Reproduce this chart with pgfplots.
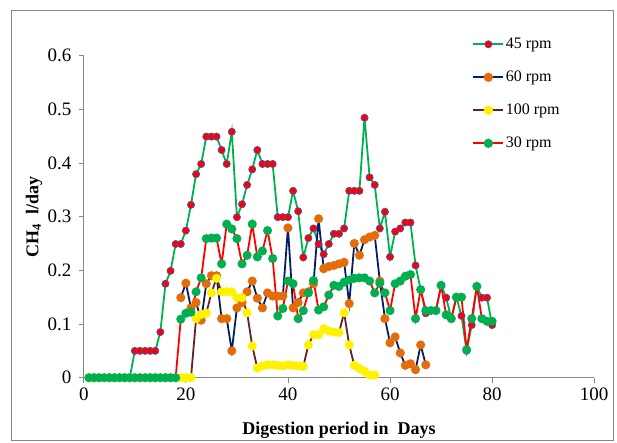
\documentclass[border=0pt]{standalone}
\usepackage{pgfplots}
\pgfplotsset{compat=1.18}
\usepackage{fontspec}
\setmainfont{Liberation Serif}
\definecolor{gLine}{RGB}{0,176,80}
\definecolor{navy}{RGB}{0,32,96}
\definecolor{orng}{RGB}{228,108,10}
\definecolor{brwn}{RGB}{99,37,35}
\definecolor{outl}{RGB}{70,85,170}
\definecolor{axgray}{RGB}{134,134,134}
\begin{document}
\begin{tikzpicture}
\useasboundingbox (-83.8pt,-64.3pt) rectangle (533.2pt,377.7pt);
\begin{axis}[
  at={(0pt,0pt)}, anchor=origin,
  scale only axis, width=510.4pt, height=322.2pt,
  xmin=0, xmax=100, ymin=0, ymax=0.6,
  xtick={0,20,40,60,80,100},
  ytick={0,0.1,0.2,0.3,0.4,0.5,0.6},
  axis lines=left,
  axis line style={axgray, line width=0.8pt, -},
  tick style={axgray, line width=0.8pt},
  tick align=outside, major tick length=5pt,
  /pgf/number format/assume math mode=true,
  /pgf/number format/fixed,
  ticklabel style={font=\fontsize{19}{22}\selectfont},
  yticklabel style={xshift=-4pt},
  xticklabel style={yshift=-2pt},
  xlabel={Digestion period in\ \ Days},
  ylabel={CH$_{\mathbf 4}$\ \ l/day},
  xlabel style={font=\bfseries\fontsize{18}{21}\selectfont, at={(axis description cs:0.5,-0.1623)}, anchor=center},
  ylabel style={font=\bfseries\fontsize{18}{21}\selectfont, at={(axis description cs:-0.0976,0.5)}, anchor=center},
  legend style={draw=none, fill=none, at={(0.755,1.068)}, anchor=north west,
    font=\fontsize{16}{19}\selectfont, row sep=16pt,
    nodes={inner sep=1.5pt, text height=11pt, text depth=3pt}},
  legend cell align=left,
  legend image code/.code={\draw[#1, line width=2pt, mark repeat=2, mark phase=2] plot coordinates {(0pt,0pt) (15pt,0pt) (30pt,0pt)};},
]
\addplot[gLine, line width=1.8pt, mark=*, mark size=3.6pt, mark options={solid, fill=red, draw=outl, line width=0.7pt}] coordinates {
(1,0)(2,0)(3,0)(4,0)(5,0)(6,0)(7,0)(8,0)(9,0)(10,0.05)(11,0.05)(12,0.05)(13,0.05)(14,0.05)(15,0.085)(16,0.175)(17,0.199)(18,0.249)(19,0.249)(20,0.274)(21,0.322)(22,0.379)(23,0.398)(24,0.449)(25,0.449)(26,0.449)(27,0.424)(28,0.398)(29,0.458)(30,0.299)(31,0.323)(32,0.359)(33,0.388)(34,0.424)(35,0.398)(36,0.398)(37,0.398)(38,0.299)(39,0.299)(40,0.299)(41,0.348)(42,0.31)(43,0.224)(44,0.26)(45,0.278)(46,0.249)(47,0.23)(48,0.249)(49,0.268)(50,0.268)(51,0.278)(52,0.348)(53,0.348)(54,0.348)(55,0.484)(56,0.373)(57,0.359)(58,0.278)(59,0.309)(60,0.225)(61,0.272)(62,0.278)(63,0.289)(64,0.289)(65,0.209)(66,0.164)(67,0.12)(68,0.125)(69,0.125)(70,0.172)(71,0.149)(72,0.11)(73,0.15)(74,0.115)(75,0.05)(76,0.098)(77,0.17)(78,0.149)(79,0.149)(80,0.098)
};
\addlegendentry{45 rpm}
\addplot[navy, line width=1.8pt, mark=*, mark size=3.6pt, mark options={solid, fill=orng, draw=orng}] coordinates {
(19,0.149)(20,0.176)(21,0.13)(22,0.14)(23,0.107)(24,0.175)(25,0.19)(26,0.19)(27,0.11)(28,0.11)(29,0.05)(30,0.13)(31,0.14)(32,0.16)(33,0.18)(34,0.148)(35,0.13)(36,0.158)(37,0.152)(38,0.152)(39,0.152)(40,0.279)(41,0.13)(42,0.14)(43,0.158)(44,0.16)(45,0.175)(46,0.296)(47,0.203)(48,0.207)(49,0.209)(50,0.212)(51,0.215)(52,0.138)(53,0.25)(54,0.228)(55,0.257)(56,0.262)(57,0.265)(58,0.18)(59,0.11)(60,0.065)(61,0.076)(62,0.046)(63,0.023)(64,0.026)(65,0.015)(66,0.061)(67,0.024)
};
\addlegendentry{60 rpm}
\addplot[brwn, line width=1.8pt, mark=*, mark size=3.6pt, mark options={solid, fill=yellow, draw=yellow}] coordinates {
(1,0)(2,0)(3,0)(4,0)(5,0)(6,0)(7,0)(8,0)(9,0)(10,0)(11,0)(12,0)(13,0)(14,0)(15,0)(16,0)(17,0)(18,0)(19,0)(20,0)(21,0)(22,0.11)(23,0.118)(24,0.12)(25,0.158)(26,0.185)(27,0.16)(28,0.16)(29,0.16)(30,0.149)(31,0.149)(32,0.121)(33,0.059)(34,0.018)(35,0.022)(36,0.024)(37,0.024)(38,0.023)(39,0.022)(40,0.024)(41,0.023)(42,0.022)(43,0.021)(44,0.061)(45,0.08)(46,0.08)(47,0.091)(48,0.087)(49,0.085)(50,0.084)(51,0.121)(52,0.061)(53,0.023)(54,0.017)(55,0.012)(56,0.005)(57,0.005)
};
\addlegendentry{100 rpm}
\addplot[red, line width=1.8pt, mark=*, mark size=3.6pt, mark options={solid, fill=gLine, draw=gLine}] coordinates {
(1,0)(2,0)(3,0)(4,0)(5,0)(6,0)(7,0)(8,0)(9,0)(10,0)(11,0)(12,0)(13,0)(14,0)(15,0)(16,0)(17,0)(18,0)(19,0.109)(20,0.12)(21,0.122)(22,0.16)(23,0.186)(24,0.259)(25,0.26)(26,0.26)(27,0.212)(28,0.286)(29,0.277)(30,0.259)(31,0.212)(32,0.228)(33,0.286)(34,0.225)(35,0.236)(36,0.274)(37,0.222)(38,0.115)(39,0.129)(40,0.18)(41,0.175)(42,0.11)(43,0.125)(44,0.158)(45,0.181)(46,0.126)(47,0.132)(48,0.154)(49,0.172)(50,0.17)(51,0.178)(52,0.182)(53,0.185)(54,0.186)(55,0.186)(56,0.18)(57,0.158)(58,0.176)(59,0.158)(60,0.125)(61,0.175)(62,0.18)(63,0.189)(64,0.192)(65,0.11)(66,0.164)(67,0.125)(68,0.125)(69,0.125)(70,0.172)(71,0.117)(72,0.11)(73,0.15)(74,0.15)(75,0.052)(76,0.11)(77,0.17)(78,0.11)(79,0.105)(80,0.105)
};
\addlegendentry{30 rpm}
\end{axis}
\draw[axgray, line width=0.8pt] (-72.8pt,-62.3pt) rectangle (529.2pt,367.7pt);
\end{tikzpicture}
\end{document}
